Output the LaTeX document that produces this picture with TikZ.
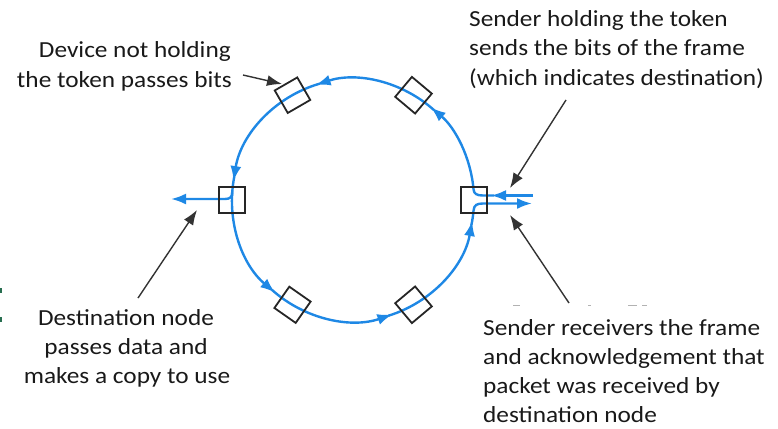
\documentclass[tikz,border=0pt]{standalone}
\usepackage{fontspec}
\setmainfont{Carlito}[FakeStretch=1.1]
\usetikzlibrary{arrows.meta,calc}
\definecolor{ringblue}{RGB}{30,136,229}
\definecolor{markgreen}{RGB}{40,110,80}
\begin{document}
\begin{tikzpicture}[x=1pt,y=-1pt,
  ring/.style={draw=ringblue, line width=2.4pt},
  flow/.style={ring, -{Latex[length=15pt,width=11pt]}},
  station/.style={draw=black!85, line width=1.8pt, minimum size=26pt, inner sep=0pt, shape=rectangle},
  pointer/.style={draw=black!80, line width=1.4pt, -{Latex[length=15pt,width=11pt]}},
  lbl/.style={font=\fontsize{23}{29}\selectfont, inner sep=0pt, text=black!90},
  speck/.style={draw=black!30, line width=0.9pt},
]
\useasboundingbox (0,0) rectangle (778,428);
\coordinate (C) at (353,200);

% ring segments (flow counterclockwise on screen)
\draw[flow] (533,195.5) -- (491,195.5);
\draw[flow] (494,195.5) -- (483,195.5) .. controls (477,195.5) and (474,194) .. ($(C)+(-5:121)$)
   arc[start angle=-5, end angle=-50, radius=121];
\draw[flow] ($(C)+(-48:121)$) arc[start angle=-48, end angle=-108, radius=121];
\draw[flow] ($(C)+(-106:121)$) arc[start angle=-106, end angle=-171, radius=121];
\draw[flow] ($(C)+(-169:121)$) arc[start angle=-169, end angle=-230, radius=121];
\draw[flow] ($(C)+(-228:121)$) arc[start angle=-228, end angle=-289, radius=121];
\draw[flow] ($(C)+(-287:121)$) arc[start angle=-287, end angle=-350, radius=121];
\draw[flow] ($(C)+(-348:121)$) arc[start angle=-348, end angle=-355, radius=121]
   .. controls (474,205) and (477,203.5) .. (483,203.5) -- (532,203.5);
% branch at destination
\draw[flow] ($(C)+(-176:121)$) .. controls (232.5,197) and (230,199) .. (225,199) -- (171,199);

% stations
\node[station] (sR) at ($(C)+(0:121)$) {};
\node[station, rotate=-40] (sTR) at ($(C)+(-60:121)$) {};
\node[station, rotate=30] (sTL) at ($(C)+(-120:121)$) {};
\node[station] (sL) at ($(C)+(180:121)$) {};
\node[station, rotate=-35] (sBL) at ($(C)+(-240:121)$) {};
\node[station, rotate=40] (sBR) at ($(C)+(-300:121)$) {};

% labels
\node[lbl, anchor=base east] (devA) at (231,58) {Device not holding};
\node[lbl, anchor=base east] (devB) at (232,87) {the token passes bits};
\node[lbl, anchor=base west] (sndA) at (469,27) {Sender holding the token};
\node[lbl, anchor=base west] (sndB) at (469,56) {sends the bits of the frame};
\node[lbl, anchor=base west] (sndC) at (469,85) {(which indicates destination)};
\node[lbl, anchor=base] (dstA) at (126,325) {Destination node};
\node[lbl, anchor=base] (dstB) at (126,354) {passes data and};
\node[lbl, anchor=base] (dstC) at (127,383) {makes a copy to use};
\node[lbl, anchor=base west] (rcvA) at (483,335) {Sender receivers the frame};
\node[lbl, anchor=base west] (rcvB) at (483,364) {and acknowledgement that};
\node[lbl, anchor=base west] (rcvC) at (483,393) {packet was received by};
\node[lbl, anchor=base west] (rcvD) at (483,422) {destination node};

% pointers
\coordinate (pA0) at (243,75);   \coordinate (pA1) at (282,84);
\coordinate (pB0) at (566,100);  \coordinate (pB1) at (510,188);
\coordinate (pC0) at (569,303);  \coordinate (pC1) at (510,215);
\coordinate (pD0) at (138,298);  \coordinate (pD1) at (197,210);
\draw[pointer] (pA0) -- (pA1);
\draw[pointer] (pB0) -- (pB1);
\draw[pointer] (pC0) -- (pC1);
\draw[pointer] (pD0) -- (pD1);

% specks
\fill[markgreen] (0,288) rectangle (2,293);
\fill[markgreen] (0,317) rectangle (2,322);
\draw[speck] (513,305) -- (520,305);
\draw[speck] (588,305) -- (591,305);
\draw[speck] (628,305) -- (637,305);
\draw[speck] (642,305) -- (647,305);
\end{tikzpicture}
\end{document}
